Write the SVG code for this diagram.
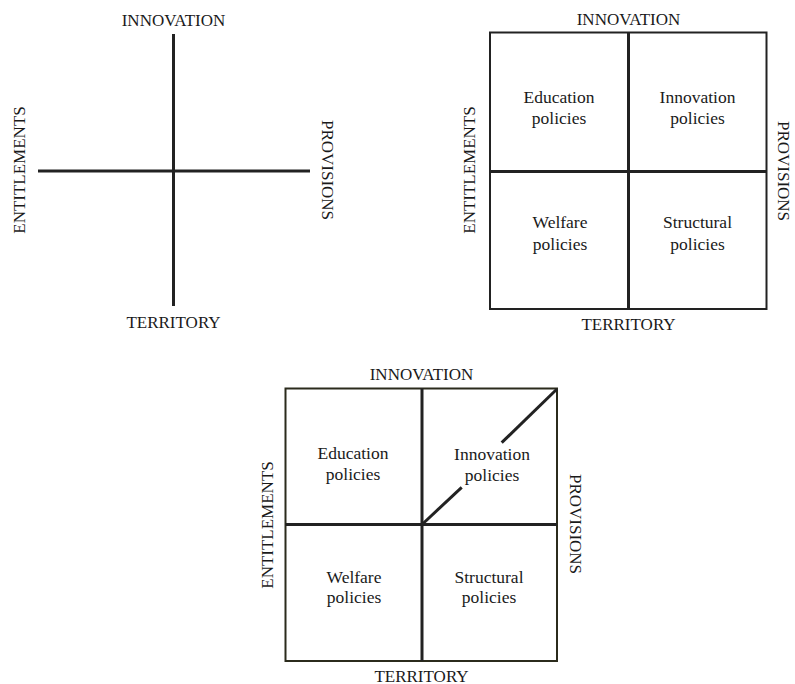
<svg xmlns="http://www.w3.org/2000/svg" width="795" height="684" viewBox="0 0 795 684">
<style>
text{fill:#1a1a1a;text-anchor:middle}
.ax{font-size:17px}
.lb{font-size:17.5px}
.ln{stroke:#222;stroke-width:3;fill:none}
.bx{stroke:#222;stroke-width:2;fill:none}
.bx3{stroke:#2b2b1c;stroke-width:2;fill:none}
</style>
<rect width="795" height="684" fill="#fff"/>
<g font-family="Liberation Serif, Times New Roman, DejaVu Serif, serif">
<g id="panel1">
<g id="p1-connectors">
<line class="ln" x1="173.5" y1="34" x2="173.5" y2="306"/>
<line class="ln" x1="38" y1="171" x2="310" y2="171"/>
</g>
<text class="ax" x="173.5" y="25.5">INNOVATION</text>
<text class="ax" x="173.5" y="328">TERRITORY</text>
<text class="ax" transform="translate(25,170) rotate(-90)">ENTITLEMENTS</text>
<text class="ax" transform="translate(321.5,170) rotate(90)">PROVISIONS</text>
</g>
<g id="panel2">
<g id="p2-connectors">
<rect class="bx" x="490" y="32.5" width="276.5" height="276.5"/>
<line class="ln" x1="628.5" y1="32.5" x2="628.5" y2="309"/>
<line class="ln" x1="490" y1="171.5" x2="766.5" y2="171.5"/>
</g>
<text class="ax" x="628.5" y="25">INNOVATION</text>
<text class="ax" x="628.5" y="330">TERRITORY</text>
<text class="ax" transform="translate(475,170) rotate(-90)">ENTITLEMENTS</text>
<text class="ax" transform="translate(778,171) rotate(90)">PROVISIONS</text>
<g id="p2-education"><text class="lb" x="559" y="103">Education</text><text class="lb" x="559" y="124">policies</text></g>
<g id="p2-innovation"><text class="lb" x="697.5" y="103">Innovation</text><text class="lb" x="697.5" y="124">policies</text></g>
<g id="p2-welfare"><text class="lb" x="560" y="228">Welfare</text><text class="lb" x="560" y="249.5">policies</text></g>
<g id="p2-structural"><text class="lb" x="697.5" y="228">Structural</text><text class="lb" x="697.5" y="249.5">policies</text></g>
</g>
<g id="panel3">
<g id="p3-connectors">
<rect class="bx3" x="285.5" y="388.5" width="271.5" height="272.5"/>
<line class="ln" x1="422" y1="388.5" x2="422" y2="661"/>
<line class="ln" x1="285.5" y1="524.5" x2="557" y2="524.5"/>
<line class="ln" x1="422" y1="524.5" x2="461.7" y2="487.3"/>
<line class="ln" x1="501.7" y1="442.7" x2="557" y2="389"/>
</g>
<text class="ax" x="421.5" y="380">INNOVATION</text>
<text class="ax" x="421.5" y="681.5">TERRITORY</text>
<text class="ax" transform="translate(273.3,525) rotate(-90)">ENTITLEMENTS</text>
<text class="ax" transform="translate(570,524) rotate(90)">PROVISIONS</text>
<g id="p3-education"><text class="lb" x="353" y="459">Education</text><text class="lb" x="353" y="480">policies</text></g>
<g id="p3-innovation"><text class="lb" x="492" y="460">Innovation</text><text class="lb" x="492" y="481">policies</text></g>
<g id="p3-welfare"><text class="lb" x="354" y="582.5">Welfare</text><text class="lb" x="354" y="603">policies</text></g>
<g id="p3-structural"><text class="lb" x="489" y="582.5">Structural</text><text class="lb" x="489" y="603">policies</text></g>
</g>
</g>
</svg>
